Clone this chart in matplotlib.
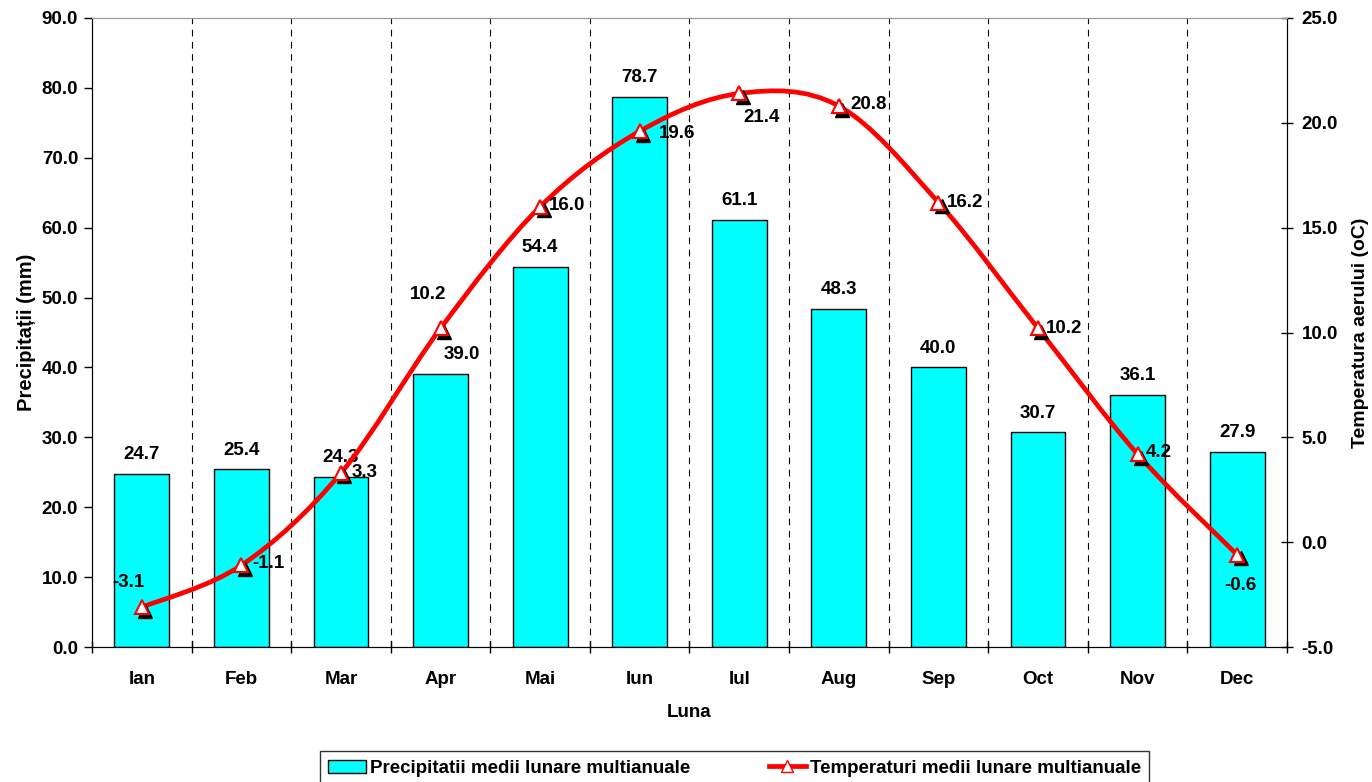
import numpy as np
import matplotlib.pyplot as plt
from matplotlib.path import Path
from matplotlib.patches import PathPatch, Patch
from matplotlib.ticker import FormatStrFormatter, FixedLocator
from matplotlib.lines import Line2D
import matplotlib.transforms as mtransforms

# monthly means
months = ["Ian", "Feb", "Mar", "Apr", "Mai", "Iun", "Iul", "Aug", "Sep", "Oct", "Nov", "Dec"]
precip = [24.7, 25.4, 24.3, 39.0, 54.4, 78.7, 61.1, 48.3, 40.0, 30.7, 36.1, 27.9]
temp = [-3.1, -1.1, 3.3, 10.2, 16.0, 19.6, 21.4, 20.8, 16.2, 10.2, 4.2, -0.6]

# label offsets in points (dx, dy, ha, va)
temp_lbl = [(-10, 18, "center", "center"), (8, 1, "left", "center"), (8, 0, "left", "center"),
            (-9, 24, "center", "center"), (6, 1, "left", "center"), (14, -2, "left", "center"),
            (16, -17, "center", "center"), (8, 1, "left", "center"), (6, 0, "left", "center"),
            (6, 0, "left", "center"), (6, 1, "left", "center"), (2, -22, "center", "center")]
precip_dx = [0, 0, 0, 15, 0, 0, 0, 0, 0, 0, 0, 0]

plt.rcParams["font.family"] = ["Liberation Sans", "DejaVu Sans"]
plt.rcParams["font.weight"] = "bold"
FS = 13.5

fig = plt.figure(figsize=(13.72, 7.82), dpi=100)
ax = fig.add_axes([0.0671, 0.1726, 0.8709, 0.8044])
ax2 = ax.twinx()

x = np.arange(len(months))
ax.bar(x, precip, width=0.55, color="#00ffff", edgecolor="black", linewidth=1.0, zorder=2)
for xi, v, dx in zip(x, precip, precip_dx):
    ax.annotate(f"{v:.1f}", (xi, v), xytext=(dx, 14), textcoords="offset points",
                ha="center", va="center", fontsize=FS, fontweight="bold")

ax.set_xlim(-0.5, len(months) - 0.5)
ax.set_ylim(0, 90)
ax.set_yticks(np.arange(0, 91, 10))
ax.yaxis.set_major_formatter(FormatStrFormatter("%.1f"))
ax.set_xticks(x)
ax.set_xticklabels(months, fontsize=FS, fontweight="bold")
ax.tick_params(axis="x", length=0, pad=17)
ax.xaxis.set_minor_locator(FixedLocator(np.arange(-0.5, len(months), 1.0)))
ax.tick_params(axis="x", which="minor", direction="inout", length=8, width=1)
ax.tick_params(axis="y", direction="out", length=6, width=1, labelsize=FS, pad=4)

# dashed separators between months
for b in np.arange(0.5, len(months) - 0.5, 1.0):
    ax.axvline(b, color="black", linestyle=(0, (6, 5)), linewidth=0.8, zorder=1)

ax.set_ylabel("Precipitații (mm)", fontsize=14.5, fontweight="bold", labelpad=4)
ax.set_xlabel("Luna", fontsize=FS, fontweight="bold", labelpad=12)

ax.spines["top"].set_color("#999999")

ax2.set_ylim(-5, 25)
ax2.set_yticks(np.arange(-5, 26, 5))
ax2.yaxis.set_major_formatter(FormatStrFormatter("%.1f"))
ax2.tick_params(axis="y", direction="inout", length=9, width=1, labelsize=FS, pad=6)
ax2.set_ylabel("Temperatura aerului (oC)", fontsize=14, fontweight="bold", labelpad=10)
ax2.spines["top"].set_color("#999999")

# smoothed temperature curve (cubic Bezier through the points)
pts = np.column_stack([x, temp]).astype(float)
ext = np.vstack([pts[0], pts, pts[-1]])
verts = [tuple(pts[0])]
codes = [Path.MOVETO]
for i in range(len(pts) - 1):
    p0, p1, p2, p3 = ext[i], ext[i + 1], ext[i + 2], ext[i + 3]
    c1 = p1 + (p2 - p0) / 6.0
    c2 = p2 - (p3 - p1) / 6.0
    verts += [tuple(c1), tuple(c2), tuple(p2)]
    codes += [Path.CURVE4] * 3
ax2.add_patch(PathPatch(Path(verts, codes), facecolor="none", edgecolor="#ff0000",
                        linewidth=3.4, zorder=3, capstyle="round"))

shadow = mtransforms.offset_copy(ax2.transData, fig=fig, x=2.5, y=-2.5, units="points")
ax2.plot(x, temp, linestyle="none", marker="^", markersize=10, color="black",
         transform=shadow, zorder=4)
ax2.plot(x, temp, linestyle="none", marker="^", markersize=10, markerfacecolor="white",
         markeredgecolor="#ff0000", markeredgewidth=1.5, zorder=5)
for xi, v, (dx, dy, ha, va) in zip(x, temp, temp_lbl):
    ax2.annotate(f"{v:.1f}", (xi, v), xytext=(dx, dy), textcoords="offset points",
                 ha=ha, va=va, fontsize=FS, fontweight="bold", zorder=6)

handles = [Patch(facecolor="#00ffff", edgecolor="black", linewidth=1.0),
           Line2D([], [], color="#ff0000", linewidth=3.4, marker="^", markersize=9,
                  markerfacecolor="white", markeredgecolor="#ff0000")]
leg = fig.legend(handles, ["Precipitatii medii lunare multianuale", "Temperaturi medii lunare multianuale"],
                 loc="lower center", bbox_to_anchor=(0.5355, -0.016), ncol=2, frameon=True,
                 fancybox=False, edgecolor="black", prop={"size": FS, "weight": "bold"},
                 columnspacing=4.2, handlelength=2.0, handletextpad=0.2, borderpad=0.45)
leg.get_frame().set_linewidth(1.0)

fig.savefig("out.png", dpi=100)
